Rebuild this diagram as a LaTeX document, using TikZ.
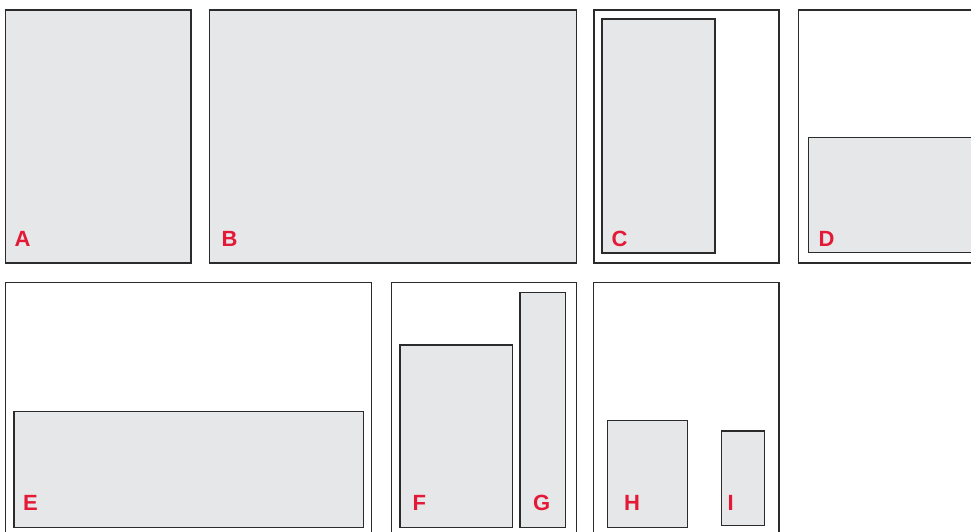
\documentclass[tikz,border=0pt]{standalone}
\usepackage{fontspec}
\setmainfont{Liberation Sans}
\usepackage{xcolor}
\definecolor{panegray}{HTML}{E6E7E8}
\definecolor{tagred}{HTML}{E31937}
\definecolor{edgegray}{HTML}{2B2B2B}
\tikzset{
  frame/.style={draw=edgegray,line width=1.1pt,fill=white},
  pane/.style={draw=edgegray,line width=1.1pt,fill=panegray},
  tag/.style={text=tagred,font=\fontsize{22}{22}\selectfont\bfseries,inner sep=0pt,anchor=base west}
}
\begin{document}
\begin{tikzpicture}[x=1pt,y=-1pt]
\useasboundingbox (0,0) rectangle (971,531);
\clip (0,0) rectangle (971,531);
% top row
\draw[pane] (5.5,10) rectangle (191,263);
\draw[pane] (209.5,10) rectangle (576.5,263);
\draw[frame] (594,10) rectangle (779,263);
\draw[pane] (602,19) rectangle (715,253);
\draw[frame] (798.3,10) rectangle (990,263);
\draw[pane] (808.3,137.3) rectangle (985,252.7);
% bottom row
\draw[frame] (5.7,282.7) rectangle (371.7,545);
\draw[pane] (14,411.7) rectangle (363.3,527.3);
\draw[frame] (391.7,282.7) rectangle (576.7,545);
\draw[pane] (400,345) rectangle (512.7,527.7);
\draw[pane] (520,292.3) rectangle (565.7,527.7);
\draw[frame] (593.7,282.7) rectangle (779,545);
\draw[pane] (607.3,420.3) rectangle (687.3,527.7);
\draw[pane] (721.7,431) rectangle (764.7,525.7);
% labels
\node[tag] (tagA) at (14.5,246) {A};
\node[tag] (tagB) at (221.5,246) {B};
\node[tag] (tagC) at (611.5,246) {C};
\node[tag] (tagD) at (818.5,246.5) {D};
\node[tag] (tagE) at (23,510) {E};
\node[tag] (tagF) at (412.5,510.5) {F};
\node[tag] (tagG) at (533,510.5) {G};
\node[tag] (tagH) at (624,510.5) {H};
\node[tag] (tagI) at (727.5,510.5) {I};
\end{tikzpicture}
\end{document}
